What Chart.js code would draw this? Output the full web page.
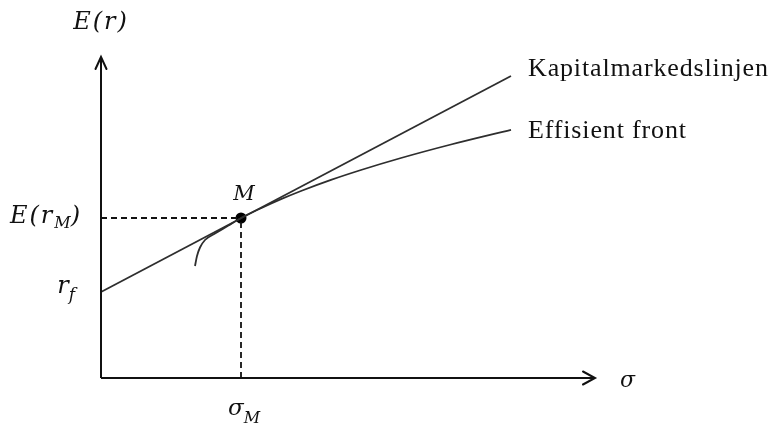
<!DOCTYPE html>
<html>
<head>
<meta charset="utf-8">
<script src="https://cdn.jsdelivr.net/npm/chart.js@4"></script>
<style>
  html, body { margin: 0; padding: 0; background: #ffffff; }
  #wrap { width: 773px; height: 425px; }
</style>
</head>
<body>
<div id="wrap"><canvas id="c" width="773" height="425"></canvas></div>
<script>
// Risk-free rate and market portfolio (sigma, expected return)
const riskFree = 8.6;
const marketPoint = { sigma: 14, ret: 16.0 };

// Capital market line end points
const cmlSigma = [0, 41];
const cmlReturn = [8.6, 30.2];

// Efficient frontier
const frontierSigma  = [9.4, 9.6, 9.9, 10.4, 11.4, 12.7, 14.0, 16, 18, 20, 23, 26, 30, 35, 41];
const frontierReturn = [11.2, 12.2, 13.05, 13.8, 14.45, 15.22, 16.0, 16.98, 17.88, 18.70, 19.81, 20.80, 22.0, 23.35, 24.82];

// Axis extents (arrow tips)
const axisSigmaMax = 49.4;
const axisReturnMax = 32.1;

const toXY = (xs, ys) => xs.map((x, i) => ({ x, y: ys[i] }));

const INK = '#111111';
const LINE = '#2e2e2e';
const MATH_FONT = '"DejaVu Serif"';
const TEXT_FONT = '"Liberation Serif"';

// Draws a sequence of italic glyph runs, some as subscripts
function drawMath(ctx, parts, x, baseline, size, subSize, spacing, align) {
  ctx.save();
  ctx.fillStyle = INK;
  ctx.textBaseline = 'alphabetic';
  ctx.textAlign = 'left';
  const measure = p => {
    ctx.font = 'italic ' + (p.sub ? subSize : size) + 'px ' + MATH_FONT;
    ctx.letterSpacing = (p.sub ? 0 : spacing) + 'px';
    return ctx.measureText(p.t).width;
  };
  const total = parts.reduce((s, p) => s + measure(p), 0);
  let cx = x;
  if (align === 'center') cx = x - total / 2;
  else if (align === 'right') cx = x - total;
  parts.forEach(p => {
    const w = measure(p);
    ctx.fillText(p.t, cx, baseline + (p.sub ? p.sub : 0));
    cx += w;
  });
  ctx.restore();
}

const annotations = {
  id: 'annotations',
  afterDatasetsDraw(chart) {
    const ctx = chart.ctx;
    const xs = chart.scales.x, ys = chart.scales.y;
    const ox = xs.getPixelForValue(0), oy = ys.getPixelForValue(0);
    const xTip = xs.getPixelForValue(axisSigmaMax);
    const yTip = ys.getPixelForValue(axisReturnMax);

    // open arrow heads
    ctx.save();
    ctx.strokeStyle = INK;
    ctx.lineWidth = 2;
    ctx.lineCap = 'round';
    ctx.beginPath();
    ctx.moveTo(ox - 5.5, yTip + 12);
    ctx.lineTo(ox, yTip);
    ctx.lineTo(ox + 5.5, yTip + 12);
    ctx.moveTo(xTip - 12, oy - 6.5);
    ctx.lineTo(xTip, oy);
    ctx.lineTo(xTip - 12, oy + 6.5);
    ctx.stroke();
    ctx.restore();

    const mx = xs.getPixelForValue(marketPoint.sigma);
    const my = ys.getPixelForValue(marketPoint.ret);
    const rf = ys.getPixelForValue(riskFree);

    drawMath(ctx, [{ t: 'E(r)' }], ox, yTip - 28, 24, 16, 2, 'center');
    drawMath(ctx, [{ t: 'E(r' }, { t: 'M', sub: 5 }, { t: ')' }], ox - 19, my + 5, 24, 16, 2, 'right');
    drawMath(ctx, [{ t: 'r' }, { t: 'f', sub: 7 }], ox - 26, rf + 1, 24, 17, 0, 'right');
    drawMath(ctx, [{ t: 'M' }], mx + 3, my - 18, 21, 14, 0, 'center');
    drawMath(ctx, [{ t: 'σ' }, { t: 'M', sub: 8 }], mx - 13, oy + 37, 23, 16, 0, 'left');
    drawMath(ctx, [{ t: 'σ' }], xTip + 25, oy + 9, 22, 14, 0, 'left');

    ctx.save();
    ctx.fillStyle = INK;
    ctx.font = '26px ' + TEXT_FONT;
    ctx.letterSpacing = '0.85px';
    ctx.textBaseline = 'alphabetic';
    ctx.fillText('Kapitalmarkedslinjen', 528, 76);
    ctx.fillText('Effisient front', 528, 138);
    ctx.restore();
  }
};

new Chart(document.getElementById('c'), {
  type: 'scatter',
  data: {
    datasets: [
      { // sigma axis
        data: [{ x: 0, y: 0 }, { x: axisSigmaMax, y: 0 }],
        showLine: true, borderColor: INK, borderWidth: 2, pointRadius: 0
      },
      { // return axis
        data: [{ x: 0, y: 0 }, { x: 0, y: axisReturnMax }],
        showLine: true, borderColor: INK, borderWidth: 2, pointRadius: 0
      },
      { // guide to E(r_M)
        data: [{ x: 0, y: marketPoint.ret }, { x: marketPoint.sigma, y: marketPoint.ret }],
        showLine: true, borderColor: INK, borderWidth: 1.8, borderDash: [6, 4], pointRadius: 0
      },
      { // guide to sigma_M
        data: [{ x: marketPoint.sigma, y: 0 }, { x: marketPoint.sigma, y: marketPoint.ret }],
        showLine: true, borderColor: INK, borderWidth: 1.8, borderDash: [6, 4], pointRadius: 0
      },
      { // capital market line
        data: toXY(cmlSigma, cmlReturn),
        showLine: true, borderColor: LINE, borderWidth: 1.8, pointRadius: 0
      },
      { // efficient frontier
        data: toXY(frontierSigma, frontierReturn),
        showLine: true, borderColor: LINE, borderWidth: 1.8, pointRadius: 0,
        cubicInterpolationMode: 'monotone'
      },
      { // market portfolio
        data: [{ x: marketPoint.sigma, y: marketPoint.ret }],
        pointRadius: 5.5, pointBackgroundColor: '#000', pointBorderColor: '#000', borderWidth: 0
      }
    ]
  },
  options: {
    responsive: false,
    animation: false,
    layout: { padding: 0, autoPadding: false },
    plugins: { legend: { display: false }, tooltip: { enabled: false } },
    scales: {
      x: { type: 'linear', display: false, min: -10.1, max: 67.2 },
      y: { type: 'linear', display: false, min: -4.7, max: 37.8 }
    }
  },
  plugins: [annotations]
});
</script>
</body>
</html>
